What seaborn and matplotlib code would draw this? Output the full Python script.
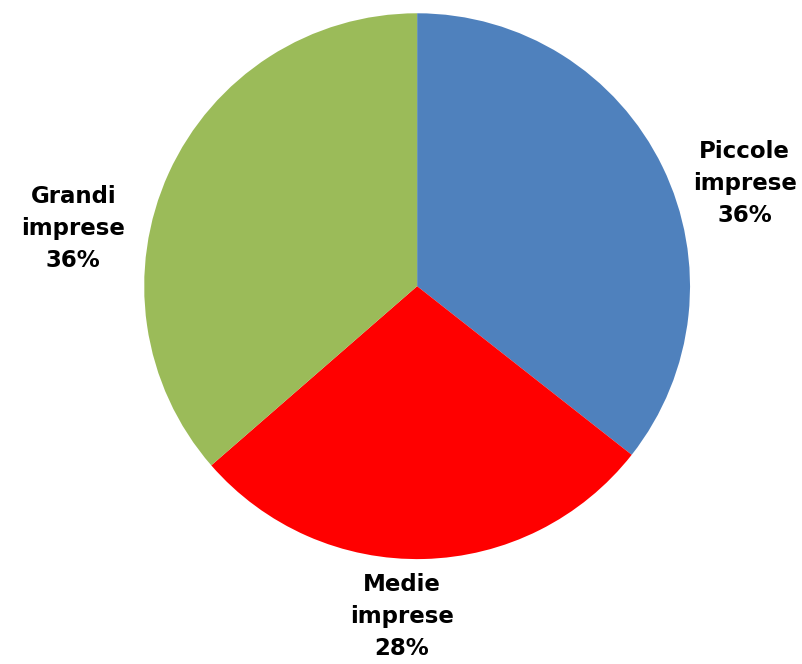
import matplotlib
matplotlib.use('Agg')
import matplotlib.pyplot as plt
import seaborn as sns

# Data (labels show rounded percentages)
categories = ['Piccole\nimprese', 'Medie\nimprese', 'Grandi\nimprese']
shares = [35.6, 28.0, 36.4]
colors = ['#4F81BD', '#FF0000', '#9BBB59']

# label placement (data units, radius 1)
label_pos = [(1.20, 0.375), (-0.055, -1.212), (-1.26, 0.21)]

sns.set_style('white')
plt.rcParams['font.family'] = ['DejaVu Sans']

fig = plt.figure(figsize=(8.02, 6.64), dpi=100)
ax = fig.add_axes([0.1796, 0.158, 0.681, 0.822])

wedges, _ = ax.pie(shares, colors=colors, startangle=90, counterclock=False,
                   radius=1, wedgeprops=dict(linewidth=0))

for cat, val, (x, y) in zip(categories, shares, label_pos):
    ax.text(x, y, f'{cat}\n{val:.0f}%', ha='center', va='center',
            fontsize=16.5, fontweight='bold', linespacing=1.5, color='black')

ax.set_xlim(-1, 1)
ax.set_ylim(-1, 1)
ax.set_aspect('equal')
ax.axis('off')

fig.savefig('out.png', dpi=100)
